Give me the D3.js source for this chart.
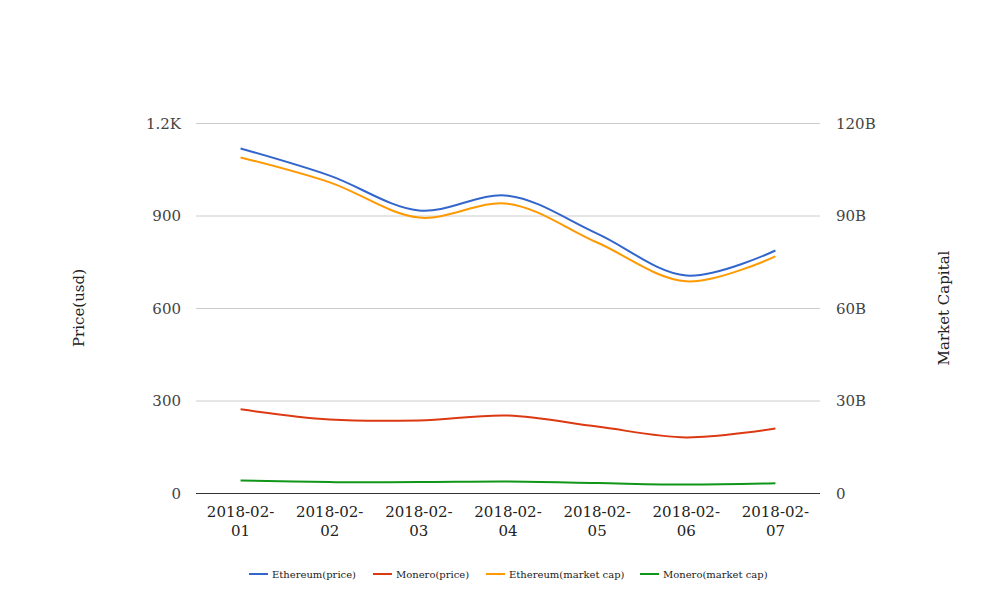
<!DOCTYPE html>
<html><head><meta charset="utf-8">
<script src="https://cdn.jsdelivr.net/npm/d3@7/dist/d3.min.js"></script>
<style>body{margin:0;background:#fff}svg{display:block}text{font-family:"DejaVu Serif",serif}</style>
</head><body><svg id="c" width="1008" height="616"></svg>
<script>
const dates = ["2018-02-01","2018-02-02","2018-02-03","2018-02-04","2018-02-05","2018-02-06","2018-02-07"];
const ethPrice = [1119, 1031, 918, 966, 843, 707, 788];
const xmrPrice = [273, 240, 237, 253, 217, 182, 211];
const ethCap = [109, 100.9, 89.5, 94.0, 81.4, 68.8, 76.9];
const xmrCap = [4.2, 3.7, 3.7, 3.9, 3.4, 2.9, 3.3];
const leftTicks = [0, 300, 600, 900, 1200];
const leftLabels = ["0","300","600","900","1.2K"];
const rightTicks = [0, 30, 60, 90, 120];
const rightLabels = ["0","30B","60B","90B","120B"];
const seriesNames = ["Ethereum(price)","Monero(price)","Ethereum(market cap)","Monero(market cap)"];
const colors = ["#3366cc","#dc3912","#ff9900","#109618"];

const svg = d3.select("#c");
const L = 196, R = 820, T = 123.5, B = 493.5;
const x = d3.scalePoint().domain(dates).range([L, R]).padding(0.5);
const yL = d3.scaleLinear().domain([0, 1200]).range([B, T]);
const yR = d3.scaleLinear().domain([0, 120]).range([B, T]);

// gridlines
svg.append("g").selectAll("line").data(leftTicks.slice(1)).join("line")
  .attr("x1", L).attr("x2", R).attr("y1", d => yL(d)).attr("y2", d => yL(d))
  .attr("stroke", "#cccccc").attr("stroke-width", 1);

// left labels
svg.append("g").selectAll("text").data(leftTicks).join("text")
  .attr("x", 181).attr("y", d => yL(d) + 5).attr("text-anchor", "end")
  .attr("font-size", 15).attr("fill", "#444").text((d, i) => leftLabels[i]);
// right labels
svg.append("g").selectAll("text").data(rightTicks).join("text")
  .attr("x", 836).attr("y", d => yR(d) + 5).attr("text-anchor", "start")
  .attr("font-size", 15).attr("fill", "#444").text((d, i) => rightLabels[i]);

// baseline
svg.append("line").attr("x1", L).attr("x2", R).attr("y1", B).attr("y2", B)
  .attr("stroke", "#333").attr("stroke-width", 1);

// x labels
const xl = svg.append("g").selectAll("text").data(dates).join("text")
  .attr("text-anchor", "middle").attr("font-size", 15).attr("fill", "#222");
xl.append("tspan").attr("x", d => x(d)).attr("y", 517).text(d => d.slice(0, 8));
xl.append("tspan").attr("x", d => x(d)).attr("y", 536).text(d => d.slice(8));

// axis titles
svg.append("text").attr("transform", "translate(84,308) rotate(-90)")
  .attr("text-anchor", "middle").attr("font-size", 15).attr("fill", "#222").text("Price(usd)");
svg.append("text").attr("transform", "translate(949,308) rotate(-90)")
  .attr("text-anchor", "middle").attr("font-size", 15).attr("fill", "#222").text("Market Capital");

const series = [
  {v: ethPrice, y: yL}, {v: xmrPrice, y: yL}, {v: ethCap, y: yR}, {v: xmrCap, y: yR}
];
const order = [2, 3, 0, 1];
order.forEach(i => {
  const s = series[i];
  const line = d3.line().x((d, j) => x(dates[j])).y(d => s.y(d)).curve(d3.curveCatmullRom.alpha(0.5));
  svg.append("path").datum(s.v).attr("d", line).attr("fill", "none")
    .attr("stroke", colors[i]).attr("stroke-width", 2);
});

// legend
const legX = [249, 373, 486, 640];
const lg = svg.append("g").selectAll("g").data(seriesNames).join("g")
  .attr("transform", (d, i) => `translate(${legX[i]},574)`);
lg.append("line").attr("x1", 0).attr("x2", 19).attr("y1", 0).attr("y2", 0)
  .attr("stroke", (d, i) => colors[i]).attr("stroke-width", 2);
lg.append("text").attr("x", 23).attr("y", 3.5).attr("font-size", 10).attr("fill", "#222").text(d => d);
</script></body></html>
